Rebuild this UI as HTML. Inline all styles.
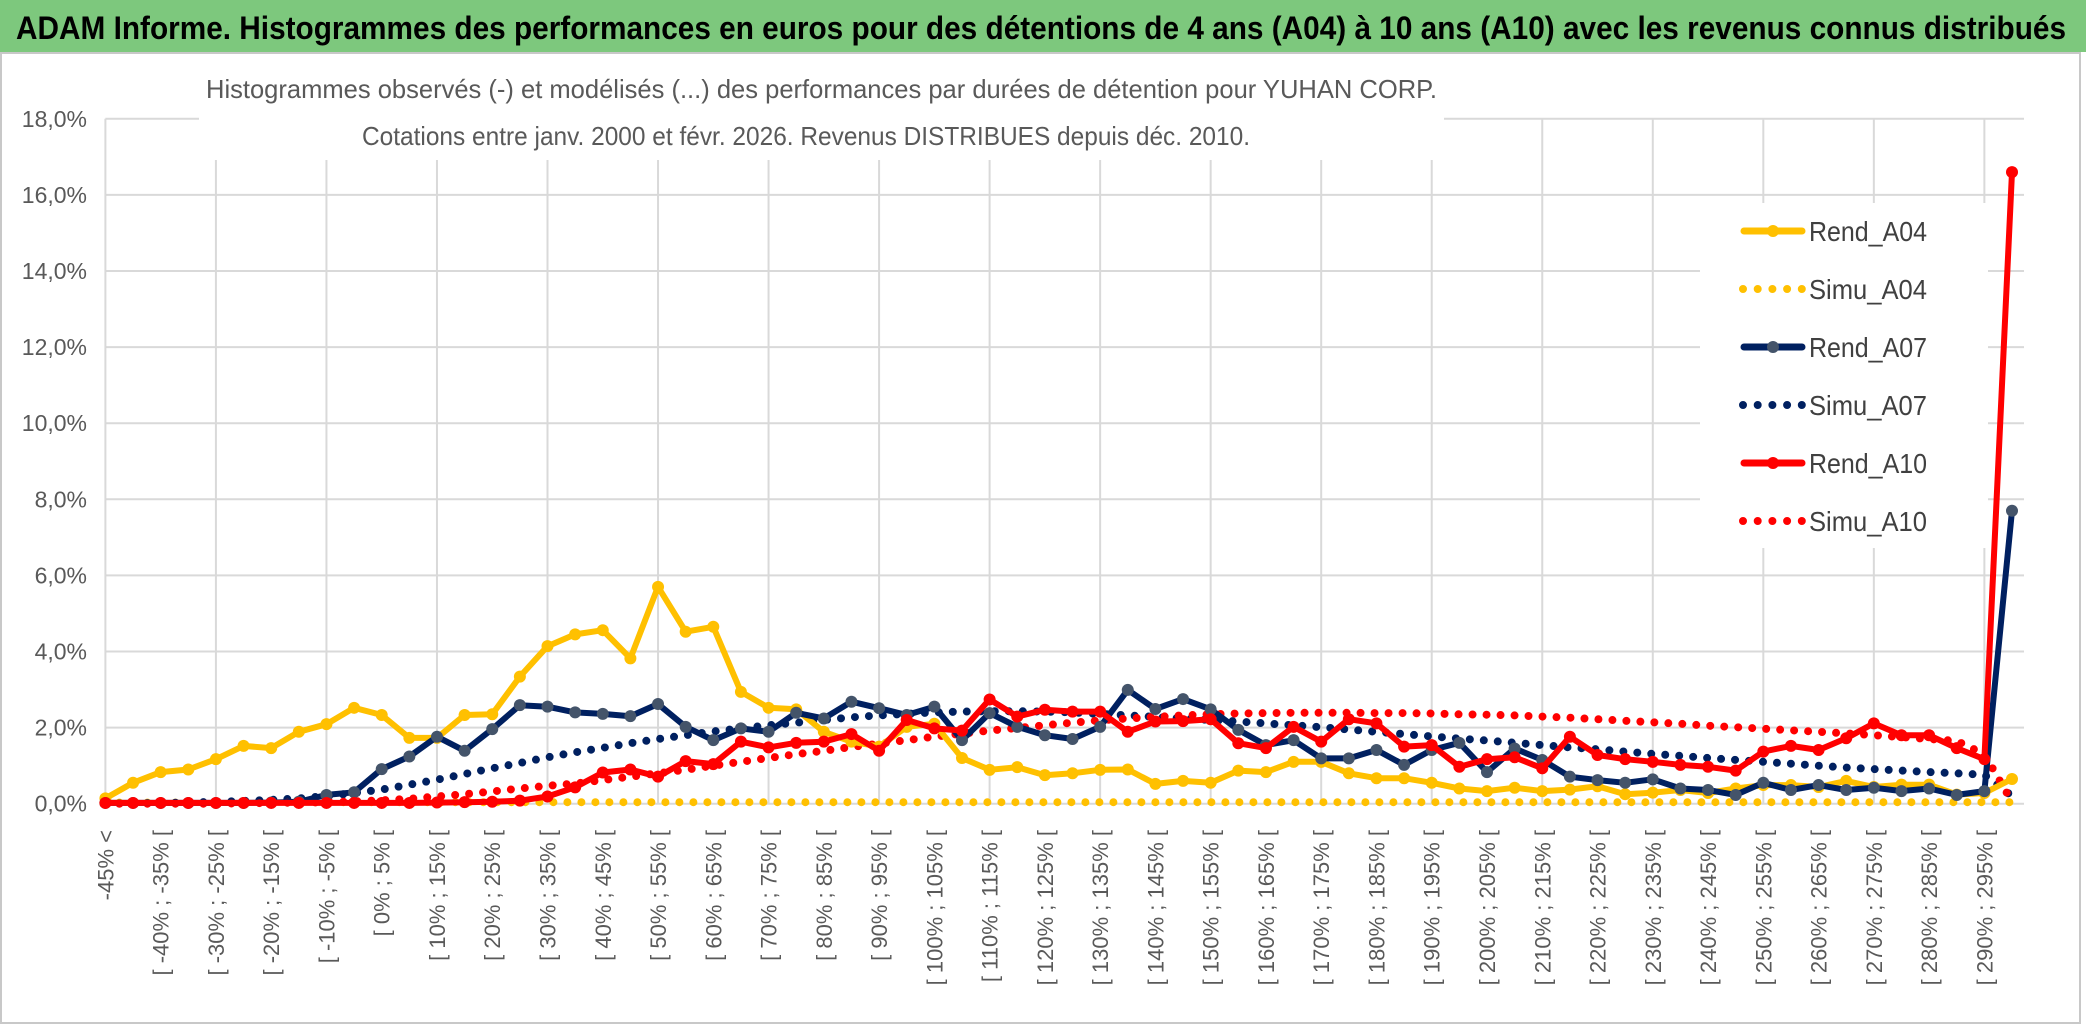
<!DOCTYPE html>
<html><head><meta charset="utf-8"><style>
html,body{margin:0;padding:0;background:#fff;}
svg{display:block;font-family:"Liberation Sans",sans-serif;}
</style></head><body>
<svg id="chart" width="2086" height="1031" viewBox="0 0 2086 1031" xmlns="http://www.w3.org/2000/svg">
<rect x="0" y="0" width="2086" height="52" fill="#7dc87d"/>
<text x="16" y="39" font-size="32" font-weight="bold" fill="#000" textLength="2050" lengthAdjust="spacingAndGlyphs">ADAM Informe. Histogrammes des performances en euros pour des détentions de 4 ans (A04) à 10 ans (A10) avec les revenus connus distribués</text>
<rect x="1" y="53" width="2079" height="970" fill="#fff" stroke="#c8c8c8" stroke-width="2"/>
<g id="grid"></g>
<g id="ylabels"></g>
<g id="xlabels"></g>
<g id="series"></g>
<rect x="199" y="70" width="1245" height="90" fill="#fff"/>
<text x="206" y="98" font-size="26" fill="#595959" textLength="1231" lengthAdjust="spacingAndGlyphs">Histogrammes observés (-) et modélisés (...) des performances par durées de détention pour YUHAN CORP.</text>
<text x="362" y="145" font-size="26" fill="#595959" textLength="888" lengthAdjust="spacingAndGlyphs">Cotations entre janv. 2000 et févr. 2026. Revenus DISTRIBUES depuis déc. 2010.</text>
<g id="legend"></g>
</svg>
<script>
const categoryCount = 70;
const yTicks = [0,2,4,6,8,10,12,14,16,18];
const rendA04 = [0.14,0.55,0.83,0.90,1.17,1.52,1.46,1.89,2.09,2.52,2.33,1.73,1.73,2.33,2.35,3.34,4.14,4.45,4.56,3.82,5.70,4.52,4.65,2.94,2.52,2.48,1.89,1.63,1.50,2.02,2.10,1.20,0.89,0.96,0.75,0.80,0.89,0.90,0.52,0.60,0.55,0.87,0.83,1.10,1.10,0.80,0.67,0.67,0.55,0.40,0.33,0.42,0.33,0.37,0.46,0.25,0.29,0.36,0.28,0.40,0.49,0.49,0.44,0.60,0.44,0.50,0.50,0.24,0.28,0.65];
const simuA04 = [0.03,0.03,0.03,0.03,0.03,0.03,0.03,0.04,0.04,0.04,0.04,0.04,0.04,0.04,0.04,0.04,0.04,0.04,0.04,0.04,0.04,0.04,0.04,0.04,0.04,0.04,0.04,0.04,0.04,0.04,0.04,0.04,0.04,0.04,0.04,0.04,0.04,0.04,0.04,0.04,0.04,0.04,0.04,0.04,0.04,0.04,0.04,0.04,0.04,0.04,0.04,0.04,0.04,0.04,0.04,0.04,0.04,0.04,0.04,0.04,0.04,0.04,0.04,0.04,0.04,0.04,0.04,0.04,0.04,0.04];
const rendA07 = [0.02,0.02,0.02,0.02,0.02,0.02,0.03,0.05,0.23,0.30,0.91,1.24,1.76,1.39,1.96,2.59,2.55,2.40,2.36,2.30,2.62,2.02,1.67,1.98,1.89,2.39,2.24,2.68,2.51,2.33,2.55,1.67,2.38,2.02,1.80,1.70,2.02,2.99,2.49,2.75,2.48,1.94,1.54,1.67,1.19,1.19,1.41,1.02,1.41,1.60,0.83,1.45,1.15,0.71,0.62,0.55,0.64,0.40,0.36,0.23,0.55,0.36,0.49,0.36,0.42,0.33,0.40,0.23,0.33,7.70];
const simuA07 = [0,0.01,0.02,0.03,0.05,0.07,0.10,0.14,0.20,0.28,0.37,0.50,0.63,0.78,0.93,1.07,1.22,1.35,1.47,1.59,1.70,1.80,1.90,1.98,2.06,2.13,2.20,2.27,2.32,2.36,2.40,2.42,2.43,2.43,2.42,2.40,2.36,2.32,2.28,2.24,2.20,2.16,2.11,2.06,2.01,1.95,1.89,1.83,1.77,1.71,1.66,1.60,1.54,1.48,1.43,1.37,1.31,1.26,1.20,1.15,1.10,1.05,1.00,0.95,0.91,0.87,0.83,0.80,0.76,0.20];
const rendA10 = [0.02,0.02,0.02,0.02,0.02,0.02,0.02,0.02,0.02,0.02,0.02,0.02,0.03,0.04,0.05,0.08,0.19,0.43,0.82,0.90,0.71,1.12,1.04,1.63,1.48,1.60,1.63,1.83,1.39,2.20,1.98,1.92,2.74,2.29,2.47,2.42,2.42,1.89,2.16,2.17,2.22,1.59,1.46,2.02,1.63,2.22,2.11,1.50,1.54,0.97,1.17,1.22,0.93,1.76,1.28,1.17,1.10,1.02,0.97,0.87,1.37,1.52,1.41,1.72,2.11,1.80,1.80,1.46,1.17,16.6];
const simuA10 = [0,0,0,0,0,0.01,0.02,0.03,0.04,0.06,0.09,0.13,0.19,0.25,0.32,0.40,0.47,0.53,0.62,0.71,0.80,0.89,1.00,1.10,1.20,1.30,1.39,1.49,1.58,1.67,1.76,1.84,1.92,1.99,2.06,2.13,2.19,2.24,2.28,2.32,2.35,2.37,2.38,2.39,2.39,2.39,2.38,2.38,2.37,2.35,2.34,2.32,2.29,2.26,2.22,2.18,2.14,2.10,2.05,2.01,1.97,1.93,1.89,1.85,1.80,1.75,1.70,1.65,1.30,0.05];
const seriesNames = ["Rend_A04","Simu_A04","Rend_A07","Simu_A07","Rend_A10","Simu_A10"];

const NS="http://www.w3.org/2000/svg";
const X0=105.4, X1=2012, Y0=803.7, PX_PER_PCT=38.05, PLOT_R=2024;
const xs = i => X0 + (X1-X0)*i/(categoryCount-1);
const ys = v => Y0 - v*PX_PER_PCT;
function mk(tag, attrs, parent){const e=document.createElementNS(NS,tag);for(const k in attrs)e.setAttribute(k,attrs[k]);parent.appendChild(e);return e;}

const grid=document.getElementById('grid');
for(const t of yTicks){
  const l=mk('line',{x1:X0,x2:PLOT_R,y1:ys(t),y2:ys(t),stroke:'#d9d9d9','stroke-width':2},grid);
  
  
}
for(let i=0;i<categoryCount;i+=4){
  const l=mk('line',{x1:xs(i),x2:xs(i),y1:ys(18),y2:Y0,stroke:'#d9d9d9','stroke-width':2},grid);
  
  
}
const yl=document.getElementById('ylabels');
for(const t of yTicks){
  const e=mk('text',{x:87,y:ys(t)+8,'text-anchor':'end','font-size':23,fill:'#595959'},yl);
  e.textContent=t.toFixed(1).replace('.',',')+'%';
  
  
}
const categories=[];
for(let i=0;i<categoryCount;i++){
  if(i===0) categories.push('-45% <');
  else if(i===categoryCount-1) categories.push('300% >=');
  else {const lo=-45+5*(i-1);categories.push('[ '+lo+'% ; '+(lo+5)+'% [');}
}
const xl=document.getElementById('xlabels');
for(let i=0;i<categoryCount-1;i+=2){
  const x=xs(i)+8,y=830;
  const e=mk('text',{x:x,y:y,'text-anchor':'end','font-size':22,fill:'#595959',transform:`rotate(-90 ${x} ${y})`},xl);
  e.textContent=categories[i];
  
  
}
const sg=document.getElementById('series');
function pathOf(arr){return arr.map((v,i)=>(i?'L':'M')+xs(i).toFixed(1)+' '+ys(v).toFixed(1)).join(' ');}
function dotted(arr,color,name){
  const p=mk('path',{d:pathOf(arr),fill:'none',stroke:color,'stroke-width':8,'stroke-linecap':'round','stroke-dasharray':'0 14'},sg);
  
  
}
function solid(arr,color,mcolor,name){
  const p=mk('path',{d:pathOf(arr),fill:'none',stroke:color,'stroke-width':6,'stroke-linejoin':'round'},sg);
  
  
  arr.forEach((v,i)=>{
    const c=mk('circle',{cx:xs(i),cy:ys(v),r:6,fill:mcolor},sg);
    
    
  });
}
dotted(simuA04,'#ffc000','simu-a04-line');
dotted(simuA07,'#002060','simu-a07-line');
dotted(simuA10,'#ff0000','simu-a10-line');
solid(rendA04,'#ffc000','#ffc000','rend-a04-line');
solid(rendA07,'#002060','#44546a','rend-a07-line');
solid(rendA10,'#ff0000','#ff0000','rend-a10-line');

const lg=document.getElementById('legend');
const bg=mk('rect',{x:1700,y:203,width:288,height:345,fill:'#fff'},lg);


const lc=['#ffc000','#ffc000','#002060','#002060','#ff0000','#ff0000'];
const lm=['#ffc000','#ffc000','#44546a','#44546a','#ff0000','#ff0000'];
seriesNames.forEach((n,k)=>{
  const y=231+58*k;
  const g=mk('g',{},lg);
  
  
  if(k%2===0){
    mk('line',{x1:1744,x2:1802,y1:y,y2:y,stroke:lc[k],'stroke-width':7,'stroke-linecap':'round'},g);
    mk('circle',{cx:1773,cy:y,r:6,fill:lm[k]},g);
  } else {
    mk('line',{x1:1743,x2:1802,y1:y,y2:y,stroke:lc[k],'stroke-width':8,'stroke-linecap':'round','stroke-dasharray':'0 14.7'},g);
  }
  const t=mk('text',{x:1809,y:y+10,'font-size':28,fill:'#404040',textLength:118,lengthAdjust:'spacingAndGlyphs'},g);
  t.textContent=n;
});
</script>
</body></html>
